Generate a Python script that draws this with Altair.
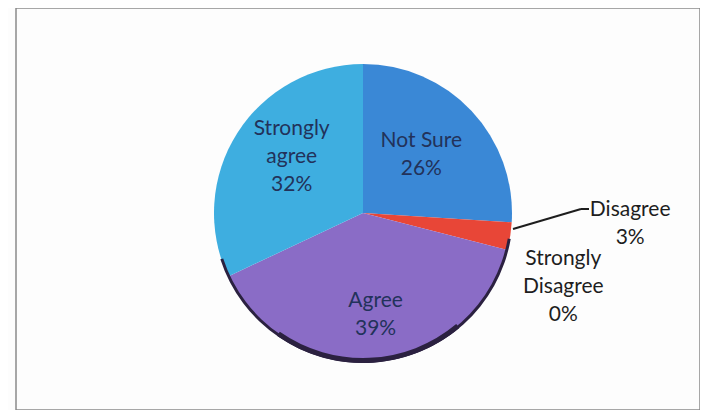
import altair as alt
import pandas as pd
import math

categories = ["Not Sure", "Disagree", "Strongly Disagree", "Agree", "Strongly agree"]
labels = ["Not Sure\n26%", "Disagree\n3%", "Strongly\nDisagree\n0%", "Agree\n39%", "Strongly\nagree\n32%"]
values = [26, 3, 0, 39, 32]
colors = ["#3a88d6", "#e84637", "#7a7a7a", "#8a6cc6", "#3eaee0"]

df = pd.DataFrame({"category": categories, "label": labels, "value": values,
                   "order": list(range(len(categories)))})

W, H = 684, 402
CX, CY = 347, 205
R = 149
FONT = "Lato"

base = alt.Chart(df)

arcs = base.mark_arc(radius=R, stroke=None).encode(
    theta=alt.Theta("value:Q", stack=True),
    order=alt.Order("order:Q"),
    color=alt.Color("category:N", scale=alt.Scale(domain=categories, range=colors), legend=None),
    x=alt.value(CX), y=alt.value(CY),
)

# dark 3D-ish rim along the lower edge
rim = alt.Chart(pd.DataFrame({"a": [0]})).mark_arc(
    radius=R + 1, radius2=R - 2, theta=math.radians(100), theta2=math.radians(252),
    color="#2b2140"
).encode(x=alt.value(CX), y=alt.value(CY))
rim2 = alt.Chart(pd.DataFrame({"a": [0]})).mark_arc(
    radius=R + 1, radius2=R - 4, theta=math.radians(140), theta2=math.radians(215),
    color="#2b2140"
).encode(x=alt.value(CX), y=alt.value(CY))

mid = (base
       .transform_window(cum="sum(value)", sort=[alt.SortField("order")])
       .transform_joinaggregate(total="sum(value)")
       .transform_calculate(mid="(datum.cum - datum.value/2) / datum.total * 2 * PI"))

def label_layer(cat, radius, dx=0, dy=0, color="#22325a"):
    return mid.transform_filter(alt.datum.category == cat).mark_text(
        radius=radius, dx=dx, dy=dy, font=FONT, fontSize=21, lineBreak="\n",
        lineHeight=28, align="center", baseline="middle", color=color
    ).encode(
        theta=alt.Theta("mid:Q", scale=None),
        text="label:N",
        x=alt.value(CX), y=alt.value(CY),
    )

t_notsure = label_layer("Not Sure", 80, dy=-17)
t_sagree = label_layer("Strongly agree", 88, dx=3, dy=-37)
t_agree = label_layer("Agree", 102, dx=3, dy=-14)
t_dis = label_layer("Disagree", R, dx=120, dy=-26, color="#1e1e1e")
t_sdis = label_layer("Strongly Disagree", R, dx=56, dy=9, color="#1e1e1e")

leader1 = alt.Chart(pd.DataFrame({"a": [0]})).mark_rule(color="#1e1e1e", strokeWidth=2).encode(
    x=alt.value(497), y=alt.value(221), x2=alt.value(565), y2=alt.value(201))
leader2 = alt.Chart(pd.DataFrame({"a": [0]})).mark_rule(color="#1e1e1e", strokeWidth=2).encode(
    x=alt.value(565), y=alt.value(201), x2=alt.value(573), y2=alt.value(201))

chart = alt.layer(arcs, rim, rim2, leader1, leader2, t_notsure, t_sagree, t_agree, t_dis, t_sdis).properties(
    width=W, height=H, padding={"left": 8, "top": 0, "right": 0, "bottom": 0},
    background="#fdfdfd"
).configure_view(stroke="#8a8a8a", strokeWidth=1.5)

chart.save("out.html", embed_options={"renderer": "svg", "actions": False})
